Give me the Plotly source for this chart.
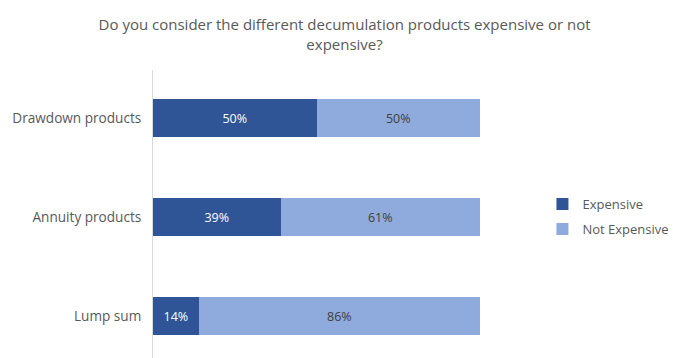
import plotly.graph_objects as go

categories = ["Drawdown products", "Annuity products", "Lump sum"]
expensive = [50, 39, 14]
not_expensive = [50, 61, 86]
series_names = ["Expensive", "Not Expensive"]

# numeric y positions so the top category sits at the top
ypos = [2, 1, 0]

font_family = "Open Sans, Noto Sans, sans-serif"
grey = "#595959"

fig = go.Figure()
fig.add_trace(go.Bar(
    y=ypos, x=expensive, orientation="h", name=series_names[0],
    legendgroup="a",
    marker=dict(color="#2F5597", line=dict(width=0)),
    text=[f"{v}%" for v in expensive], textposition="inside",
    insidetextanchor="middle",
    textfont=dict(color="white", size=12.5, family=font_family),
    width=0.39, hoverinfo="x+name",
))
fig.add_trace(go.Bar(
    y=ypos, x=not_expensive, orientation="h", name=series_names[1],
    legendgroup="b",
    marker=dict(color="#8FAADC", line=dict(width=0)),
    text=[f"{v}%" for v in not_expensive], textposition="inside",
    insidetextanchor="middle",
    textfont=dict(color="#404040", size=12.5, family=font_family),
    width=0.39, hoverinfo="x+name",
))

fig.update_layout(
    barmode="stack",
    width=673, height=358,
    margin=dict(l=153, r=193, t=70, b=0, autoexpand=False),
    paper_bgcolor="white", plot_bgcolor="white",
    font=dict(family=font_family, color=grey, size=13),
    title=dict(
        text="Do you consider the different decumulation products expensive or not<br>expensive?",
        x=0.512, xanchor="center", xref="container",
        y=0.915, yanchor="middle", yref="container",
        font=dict(size=15, color=grey, family=font_family),
    ),
    xaxis=dict(range=[0, 100], visible=False, fixedrange=True),
    yaxis=dict(
        range=[-0.424, 2.485], tickvals=ypos, ticktext=categories,
        showline=True, linecolor="#D9D9D9", linewidth=1,
        showgrid=False, zeroline=False, ticks="", ticklabelstandoff=8,
        tickfont=dict(size=13.6, color=grey, family=font_family),
        fixedrange=True,
    ),
    legend=dict(
        xref="container", yref="container",
        x=0.806, xanchor="left", y=0.395, yanchor="middle",
        font=dict(size=13, color=grey, family=font_family),
        itemwidth=30, tracegroupgap=5, traceorder="grouped",
    ),
    showlegend=True,
)

fig.write_html("out.html")
